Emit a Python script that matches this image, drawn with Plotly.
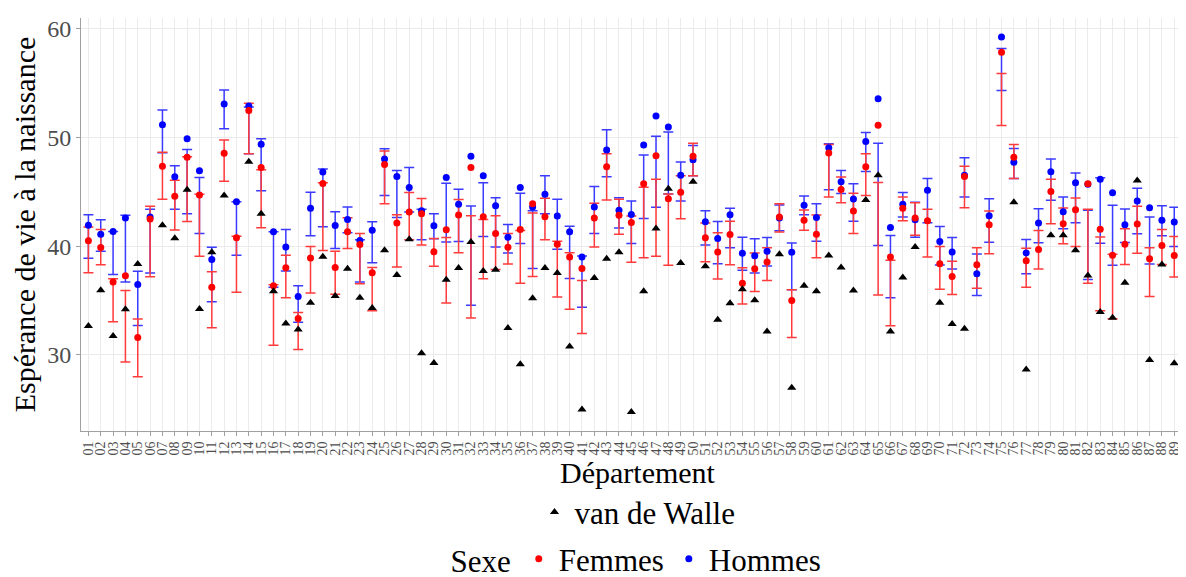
import plotly.graph_objects as go

departements = [f"{i:02d}" for i in range(1, 91)]

femmes = [40.5, 39.88, 36.7, 37.28, 31.6, 42.5, 47.35, 44.6, 48.18, 44.72,
          36.23, 48.55, 40.77, 52.5, 47.25, 36.36, 38.02, 33.36, 38.92, 45.77,
          38.05, 41.33, 40.15, 37.56, 47.53, 42.13, 43.15, 42.99, 39.5, 41.51,
          42.87, 47.25, 42.72, 41.17, 39.9, 41.54, 43.92, 42.72, 40.19, 39.01,
          37.96, 42.59, 47.31, 42.84, 42.19, 45.74, 48.33, 44.38, 44.97, 48.27,
          40.77, 39.47, 41.08, 36.6, 37.93, 38.55, 42.69, 35.0, 42.4, 41.11,
          48.58, 45.22, 43.24, 47.31, 51.14, 39.01, 43.49, 42.59, 42.35, 38.4,
          37.22, 46.42, 38.3, 41.98, 57.84, 48.18, 38.67, 39.69, 45.03, 42.07,
          43.36, 45.74, 41.57, 39.17, 40.19, 42.04, 38.86, 40.06, 39.14, 44.2]
femmes_bas = [37.56, 38.3, 33.06, 29.35, 28.0, 37.2, 44.32, 41.5, 42.28, 39.07,
              32.5, 45.99, 35.77, 48.5, 41.7, 30.9, 35.25, 30.5, 35.7, 39.6,
              35.59, 39.8, 36.54, 34.07, 43.92, 38.09, 40.59, 40.12, 38.15, 34.78,
              39.4, 33.4, 37.0, 37.87, 38.36, 36.6, 37.22, 40.59, 35.34, 34.2,
              31.98, 39.94, 44.26, 41.1, 38.52, 38.95, 39.07, 38.24, 42.53, 46.48,
              38.58, 36.98, 38.3, 34.69, 35.83, 36.85, 41.3, 31.6, 41.48, 38.95,
              44.54, 44.0, 41.17, 44.66, 35.52, 32.69, 42.34, 41.02, 39.0, 36.05,
              35.56, 43.55, 36.14, 39.32, 51.1, 46.23, 36.23, 37.9, 42.07, 40.22,
              39.97, 36.6, 34.07, 33.33, 38.33, 39.35, 35.37, 38.33, 37.16, 32.32]
femmes_haut = [41.76, 41.54, 37.0, 35.93, 33.3, 43.67, 48.64, 46.08, 48.24, 44.78,
               37.65, 49.78, 40.93, 53.15, 47.04, 36.45, 39.17, 33.9, 39.97, 45.83,
               39.54, 42.62, 41.17, 38.05, 48.77, 42.9, 44.94, 44.4, 40.71, 40.8,
               44.3, 42.8, 42.47, 42.8, 41.17, 41.45, 43.06, 44.41, 40.46, 39.41,
               36.85, 43.95, 48.52, 44.32, 42.78, 45.43, 46.17, 44.8, 46.48, 49.48,
               42.13, 41.23, 42.31, 38.02, 39.38, 39.85, 43.92, 35.99, 43.33, 42.87,
               49.35, 46.36, 44.88, 48.52, 45.86, 38.7, 44.54, 44.0, 43.4, 39.97,
               38.61, 47.35, 39.85, 43.24, 55.9, 49.35, 39.82, 41.45, 46.17, 43.52,
               44.44, 43.4, 40.86, 39.26, 41.6, 43.67, 39.85, 41.54, 40.9, 41.02]

hommes = [41.94, 41.1, 41.36, 42.6, 36.48, 42.68, 51.17, 46.39, 49.88, 46.94,
          38.77, 53.09, 44.1, 52.9, 49.38, 41.33, 39.94, 35.37, 43.49, 46.82,
          41.91, 42.47, 40.52, 41.48, 48.02, 46.42, 45.4, 43.27, 41.88, 46.33,
          43.86, 48.27, 46.48, 43.73, 40.83, 45.4, 43.6, 44.78, 42.78, 41.33,
          39.0, 43.6, 48.86, 43.3, 42.93, 49.32, 51.98, 50.96, 46.54, 47.96,
          42.25, 40.71, 42.9, 39.35, 39.13, 39.54, 42.6, 39.44, 43.77, 42.65,
          49.07, 45.93, 44.35, 49.63, 53.58, 41.73, 43.86, 42.44, 45.15, 40.43,
          39.47, 46.54, 37.47, 42.81, 59.26, 47.72, 39.38, 42.13, 46.85, 43.18,
          45.83, 45.7, 46.17, 44.91, 41.98, 44.17, 43.55, 42.38, 42.22, 45.55]
hommes_bas = [38.9, 39.54, 37.4, 36.7, 32.7, 37.53, 48.6, 43.4, 43.0, 41.17,
              34.9, 50.8, 39.17, 48.5, 45.1, 36.23, 37.72, 33.0, 40.96, 41.8,
              39.8, 41.23, 36.7, 38.49, 44.66, 42.65, 43.15, 40.6, 40.68, 40.4,
              40.43, 34.57, 40.9, 39.94, 39.38, 40.25, 37.96, 43.0, 39.72, 37.04,
              34.38, 41.17, 46.39, 41.67, 40.25, 42.56, 43.58, 44.81, 44.17, 46.48,
              40.12, 38.4, 39.85, 37.78, 37.53, 38.18, 41.42, 36.0, 42.9, 40.46,
              45.19, 44.85, 42.31, 46.88, 40.06, 35.25, 42.68, 40.83, 42.16, 38.27,
              37.9, 44.54, 35.46, 40.37, 54.32, 46.23, 37.47, 40.31, 44.23, 41.61,
              42.16, 36.94, 40.28, 38.24, 40.34, 41.14, 38.36, 40.96, 39.97, 33.3]
hommes_haut = [42.9, 42.44, 41.36, 42.84, 37.7, 43.4, 52.53, 47.4, 48.9, 46.33,
               39.9, 54.38, 44.1, 52.8, 49.9, 41.33, 41.54, 36.36, 44.97, 47.1,
               43.18, 43.6, 40.6, 42.25, 48.98, 46.98, 47.25, 43.4, 42.99, 45.8,
               45.25, 43.7, 45.83, 44.47, 42.0, 44.88, 43.27, 46.48, 44.32, 41.85,
               39.1, 45.49, 50.71, 44.47, 44.17, 48.4, 50.12, 50.52, 47.75, 49.26,
               43.27, 42.28, 43.49, 40.83, 40.68, 40.8, 43.8, 40.3, 44.63, 43.92,
               49.44, 46.98, 45.74, 50.46, 49.48, 40.99, 44.94, 44.04, 46.23, 41.82,
               40.8, 48.15, 39.29, 44.38, 58.2, 49.0, 40.62, 43.46, 48.02, 44.54,
               46.73, 43.3, 46.3, 43.77, 43.43, 45.34, 42.68, 43.73, 43.58, 41.73]

van_de_walle = [32.65, 35.96, 31.73, 34.2, 38.36, None, 41.94, 40.74, 45.2, 34.23,
                39.44, 44.66, None, 47.78, 43.0, 35.86, 32.9, 32.35, 34.81, 39.04,
                35.43, 37.93, 35.25, 34.32, 39.63, 37.35, 40.65, 30.16, 29.26, 36.91,
                38.0, 40.4, 37.72, 37.84, 32.47, 29.14, 35.22, 38.0, 37.53, 30.77,
                24.97, 37.07, 38.86, 39.44, 24.75, 35.86, 41.64, 45.3, 38.46, 45.93,
                38.15, 33.24, 34.75, 36.05, 35.03, 32.16, 39.26, 26.97, 36.36, 35.86,
                39.14, 38.05, 35.93, 44.26, 46.54, 32.16, 37.13, 39.94, None, 34.81,
                32.84, 32.41, None, None, None, 44.04, 28.67, None, 41.02, 41.02,
                39.63, 37.31, 33.95, 33.43, 36.64, 46.05, 29.54, 38.33, 29.23, None]

SERIF = "Liberation Serif"
RED = "#ff0000"
BLUE = "#0000ff"


def bar_trace(lo, hi, color):
    mid = [(a + b) / 2 for a, b in zip(lo, hi)]
    half = [(b - a) / 2 for a, b in zip(lo, hi)]
    return go.Scatter(
        x=departements, y=mid, mode="markers",
        marker=dict(size=1, opacity=0),
        error_y=dict(type="data", array=half, symmetric=True,
                     color=color, thickness=1.5, width=5),
        showlegend=False, hoverinfo="skip",
    )


fig = go.Figure()
fig.add_trace(bar_trace(hommes_bas, hommes_haut, "#3b3bff"))
fig.add_trace(bar_trace(femmes_bas, femmes_haut, "#ff3b3b"))
fig.add_trace(go.Scatter(x=departements, y=hommes, mode="markers", name="Hommes",
                         marker=dict(color=BLUE, size=7), legend="legend"))
fig.add_trace(go.Scatter(x=departements, y=femmes, mode="markers", name="Femmes",
                         marker=dict(color=RED, size=7), legend="legend"))
fig.add_trace(go.Scatter(x=departements, y=van_de_walle, mode="markers",
                         name="van de Walle",
                         marker=dict(color="black", size=8, symbol="triangle-up"),
                         legend="legend2"))

fig.update_layout(
    width=1186, height=577,
    margin=dict(l=73, r=0, t=10, b=154, autoexpand=False),
    plot_bgcolor="white", paper_bgcolor="white",
    font=dict(family=SERIF, color="black"),
    legend=dict(
        orientation="h", x=0.5, xanchor="center", y=-0.31, yanchor="middle",
        title=dict(text="Sexe", side="left", font=dict(size=31, family=SERIF)),
        font=dict(size=31, family=SERIF), traceorder="reversed",
        itemwidth=30,
    ),
    legend2=dict(
        orientation="h", x=0.5, xanchor="center", y=-0.197, yanchor="middle",
        font=dict(size=31, family=SERIF), itemwidth=30,
    ),
)

fig.update_xaxes(
    type="category", range=[-0.6, 89.6],
    tickmode="array", tickvals=departements, ticktext=departements,
    showgrid=True, gridcolor="#ebebeb", gridwidth=1,
    showline=True, linecolor="#a0a0a0", linewidth=1,
    ticks="outside", ticklen=4, tickcolor="#a0a0a0",
    tickangle=-90, tickfont=dict(size=14, family=SERIF, color="#4d4d4d"),
    title=dict(text="Département", font=dict(size=30, family=SERIF), standoff=0),
    automargin=False,
)
fig.update_yaxes(
    range=[23.0, 61.0], tickvals=[30, 40, 50, 60],
    showgrid=True, gridcolor="#ebebeb", gridwidth=1, zeroline=False,
    showline=True, linecolor="#a0a0a0", linewidth=1,
    ticks="outside", ticklen=4, tickcolor="#a0a0a0",
    tickfont=dict(size=24, family=SERIF, color="#4d4d4d"),
    title=dict(text="Espérance de vie à la naissance",
               font=dict(size=30, family=SERIF), standoff=4),
    automargin=False,
)

fig.write_html("out.html")
